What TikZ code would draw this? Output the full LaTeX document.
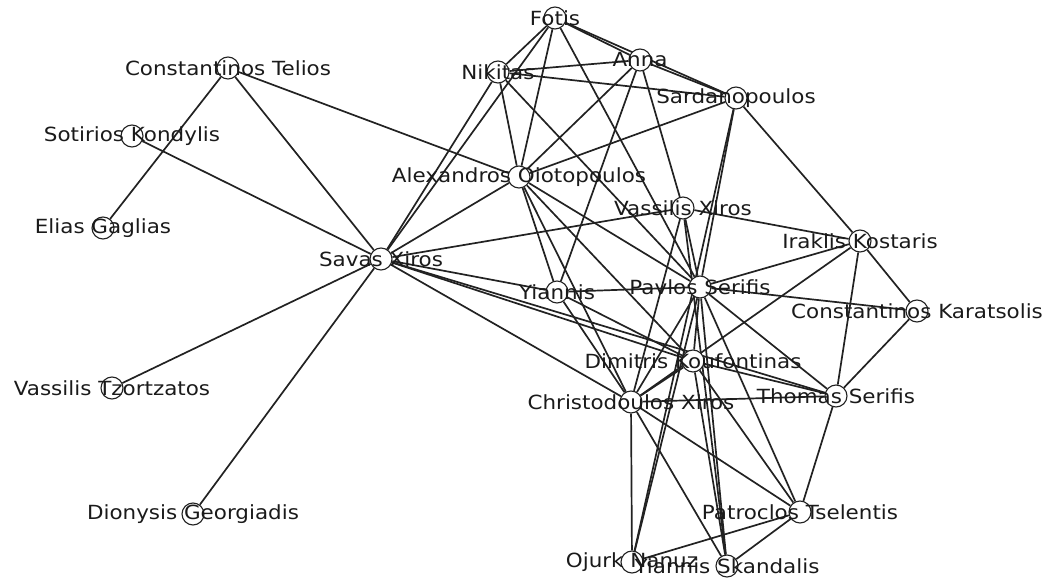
\documentclass[tikz,border=0pt]{standalone}
\usepackage{fontspec}
\newfontfamily\graphfont[FakeStretch=1.1]{DejaVu Sans}
\usetikzlibrary{backgrounds}
\definecolor{edgecol}{HTML}{222222}
\definecolor{textcol}{HTML}{1A1A1A}
\tikzset{
  person/.style={circle, draw=edgecol, line width=1.1pt, fill=white,
                 minimum size=22pt, inner sep=0pt},
  plabel/.style={font=\graphfont\fontsize{19.5}{22}\selectfont, text=textcol, inner sep=0pt},
  tie/.style={draw=edgecol, line width=1.7pt}
}
\newcommand{\person}[4]{\node[person, label={[plabel]center:#4}] (#1) at (#2,#3) {};}
\begin{document}
\begin{tikzpicture}[x=1pt, y=-1pt]
\useasboundingbox (0,0) rectangle (1053,580);
% people
\person{fotis}{555}{18}{Fotis}
\person{anna}{640}{60}{Anna}
\person{nikitas}{498}{72}{Nikitas}
\person{sard}{736}{98}{Sardanopoulos}
\person{telios}{228}{68}{Constantinos Telios}
\person{kondylis}{132}{136}{Sotirios Kondylis}
\person{gaglias}{103}{228}{Elias Gaglias}
\person{alex}{519}{177}{Alexandros Oiotopoulos}
\person{vxiros}{683}{208}{Vassilis Xiros}
\person{savas}{381}{259}{Savas Xiros}
\person{iraklis}{860}{241}{Iraklis Kostaris}
\person{yiannis}{557}{292}{Yiannis}
\person{pavlos}{700}{287}{Pavlos Serifis}
\person{karats}{917}{311}{Constantinos Karatsolis}
\person{dimitris}{693}{361}{Dimitris Koufontinas}
\person{christo}{631}{402}{Christodoulos Xiros}
\person{thomas}{836}{396}{Thomas Serifis}
\person{tzortz}{112}{388}{Vassilis Tzortzatos}
\person{georg}{193}{514}{Dionysis Georgiadis}
\person{patro}{800}{512}{Patroclos Tselentis}
\person{ojurk}{632}{562}{Ojurk Nanuz}
\person{skand}{727}{566}{Yiannis Skandalis}
% ties between people
\begin{scope}[on background layer]
\foreach \a/\b in {
  telios/gaglias, telios/savas, telios/alex, kondylis/savas, tzortz/savas,
  georg/savas, savas/nikitas, savas/fotis, savas/alex, savas/vxiros,
  savas/yiannis, savas/dimitris, savas/thomas, savas/christo,
  fotis/nikitas, fotis/alex, fotis/anna, fotis/sard, fotis/pavlos,
  nikitas/anna, nikitas/sard, nikitas/alex, nikitas/pavlos,
  anna/sard, anna/alex, anna/yiannis, anna/vxiros,
  sard/alex, sard/iraklis, sard/pavlos, sard/ojurk,
  alex/yiannis, alex/christo, alex/pavlos, alex/dimitris,
  vxiros/iraklis, vxiros/pavlos, vxiros/christo, vxiros/skand,
  yiannis/pavlos, yiannis/christo, yiannis/dimitris,
  pavlos/iraklis, pavlos/karats, pavlos/dimitris, pavlos/christo,
  pavlos/thomas, pavlos/patro, pavlos/skand, pavlos/ojurk,
  iraklis/karats, iraklis/thomas, iraklis/christo, karats/thomas,
  dimitris/christo, dimitris/thomas, dimitris/patro, dimitris/skand,
  christo/thomas, christo/ojurk, christo/skand, christo/patro,
  thomas/patro, patro/ojurk, patro/skand}
  \draw[tie] (\a) -- (\b);
\end{scope}
\end{tikzpicture}
\end{document}
